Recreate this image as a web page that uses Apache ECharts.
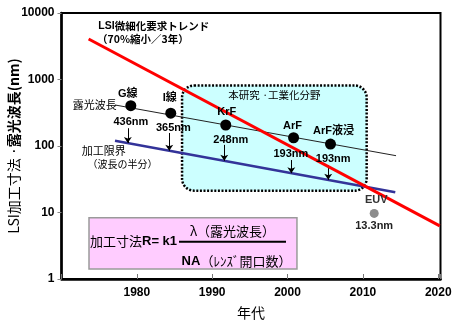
<!DOCTYPE html>
<html>
<head>
<meta charset="utf-8">
<script src="https://cdn.jsdelivr.net/npm/echarts@6/dist/echarts.min.js"></script>
<style>
  html, body { margin: 0; padding: 0; background: #fff; }
  #chart { width: 454px; height: 325px; }
</style>
</head>
<body>
<div id="chart"></div>
<script>
// LSI feature size and lithography wavelength trends (log scale, nm)
const trendYears = [1973.6, 2020.2];
const trendNm = [4060, 6.3];
const exposureYears = [1977.1, 2014.4];
const exposureNm = [414, 71.5];
const limitYears = [1977.1, 2014.3];
const limitNm = [120, 20.1];
const sourceNames = ['G線', 'I線', 'KrF', 'ArF', 'ArF液浸'];
const sourceYears = [1979.2, 1984.5, 1991.8, 2000.8, 2005.7];
const sourceNm = [404, 311, 207, 133, 107];
const sourceWavelengths = ['436nm', '365nm', '248nm', '193nm', '193nm'];
const arrowYears = [1978.8, 1984.3, 1991.6, 2000.5, 2005.4];
const arrowFromNm = [185, 157, 104, 61.5, 51.8];
const arrowToNm = [111, 85, 60, 39, 31];
const euvName = 'EUV';
const euvYears = [2011.5];
const euvNm = [9.7];
const euvWavelength = '13.3nm';
const studyRegion = [[1986.0, 813], [2010.5, 21.3]];
const formulaRegion = [[1973.65, 8.36], [2001.25, 1.41]];
const yTicks = [1, 10, 100, 1000, 10000];

// label nudges (pixels) for the light-source names and wavelengths
const nameNudge = [[-3, 0], [-1, -3], [1, -1.5], [-1, 0], [3, -1.5]];
const waveNudge = [[0, 1], [2.6, -0.5], [5, -0.5], [-2.7, 1.3], [2.7, -0.5]];

const LAT = "'Liberation Sans', Arial, 'Noto Sans CJK JP', sans-serif";
const JP = "'Noto Sans CJK JP', 'Liberation Sans', sans-serif";

const chart = echarts.init(document.getElementById('chart'), null, { renderer: 'canvas' });

const pairs = (xs, ys) => xs.map((x, i) => [x, ys[i]]);

const option = {
  animation: false,
  backgroundColor: '#fff',
  grid: {
    left: 61.5, top: 13, width: 379, height: 266,
    outerBoundsMode: 'none', containLabel: false,
    show: true, borderColor: '#000', borderWidth: 2, backgroundColor: '#fff'
  },
  xAxis: {
    type: 'value', min: 1970, max: 2020.3, interval: 10,
    name: '年代', nameLocation: 'middle', nameGap: 27, nameMoveOverlap: false,
    nameTextStyle: { fontFamily: JP, fontSize: 14, color: '#000' },
    axisLine: { lineStyle: { color: '#000', width: 2.5 } },
    axisTick: { inside: true, length: 5, lineStyle: { color: '#777', width: 1 } },
    axisLabel: {
      margin: 8, fontFamily: LAT, fontWeight: 'bold', fontSize: 12, color: '#000',
      formatter: v => (v % 10 === 0 && v > 1970) ? String(v) : ''
    },
    splitLine: { show: false }
  },
  yAxis: {
    type: 'log', logBase: 10, min: yTicks[0], max: yTicks[yTicks.length - 1],
    name: '{a|LSI加工寸法 ·}{b|露光波長(nm)}', nameLocation: 'middle', nameGap: 41, nameRotate: 90,
    nameMoveOverlap: false,
    nameTextStyle: {
      rich: {
        a: { fontFamily: JP, fontSize: 14, color: '#000' },
        b: { fontFamily: JP, fontSize: 14, fontWeight: 'bold', color: '#000' }
      }
    },
    axisLine: { lineStyle: { color: '#000', width: 2.5 } },
    axisTick: { inside: false, length: 4, lineStyle: { color: '#888', width: 1 } },
    axisLabel: {
      margin: 7, fontFamily: LAT, fontWeight: 'bold', fontSize: 12, color: '#000',
      formatter: v => String(Math.round(v))
    },
    splitLine: { show: false },
    minorTick: { show: false }
  },
  series: [
    {
      name: '加工限界', type: 'line', data: pairs(limitYears, limitNm),
      showSymbol: false, symbol: 'none', z: 3,
      lineStyle: { color: '#333399', width: 2.5 }
    },
    {
      name: '露光波長', type: 'line', data: pairs(exposureYears, exposureNm),
      showSymbol: false, symbol: 'none', z: 3,
      lineStyle: { color: '#222', width: 1 }
    },
    {
      name: 'LSI微細化要求トレンド', type: 'line', data: pairs(trendYears, trendNm),
      showSymbol: false, symbol: 'none', z: 4,
      lineStyle: { color: '#ff0000', width: 3 }
    },
    {
      name: 'arrows', type: 'lines', coordinateSystem: 'cartesian2d', z: 4,
      symbol: ['none', 'arrow'], symbolSize: [0, 6],
      lineStyle: { color: '#000', width: 1, opacity: 1 },
      data: arrowYears.map((y, i) => ({ coords: [[y, arrowFromNm[i]], [y, arrowToNm[i]]] }))
    },
    {
      name: '光源', type: 'scatter', z: 5, symbolSize: 11,
      itemStyle: { color: '#000', opacity: 1 },
      data: sourceYears.map((y, i) => ({
        value: [y, sourceNm[i]], name: sourceNames[i],
        label: { offset: nameNudge[i] }
      })),
      label: {
        show: true, position: 'top', distance: 1, formatter: p => p.name,
        fontFamily: LAT, fontWeight: 'bold', fontSize: 11, color: '#000'
      }
    },
    {
      name: '波長', type: 'scatter', z: 5, symbolSize: 11,
      itemStyle: { color: 'rgba(0,0,0,0)', opacity: 1 },
      data: sourceYears.map((y, i) => ({
        value: [y, sourceNm[i]], name: sourceWavelengths[i],
        label: { offset: waveNudge[i] }
      })),
      label: {
        show: true, position: 'bottom', distance: 4, formatter: p => p.name,
        fontFamily: LAT, fontWeight: 'bold', fontSize: 11, color: '#000'
      }
    },
    {
      name: euvName, type: 'scatter', z: 5, symbolSize: 9,
      itemStyle: { color: '#8c8c8c', opacity: 1 },
      data: pairs(euvYears, euvNm),
      label: {
        show: true, position: 'bottom', distance: 3, formatter: euvWavelength,
        fontFamily: LAT, fontWeight: 'bold', fontSize: 11, color: '#222'
      }
    }
  ]
};

chart.setOption(option);

function px(p) { return chart.convertToPixel({ gridIndex: 0 }, p); }

const s0 = px(studyRegion[0]), s1 = px(studyRegion[1]);
const f0 = px(formulaRegion[0]), f1 = px(formulaRegion[1]);
const euvPt = px([euvYears[0], euvNm[0]]);

function txt(x, y, text, size, weight, family, extra) {
  return {
    type: 'text', x, y, z: 20,
    style: Object.assign({
      text, fill: '#000', fontSize: size, fontWeight: weight, fontFamily: family,
      verticalAlign: 'middle', align: 'left'
    }, extra || {})
  };
}
const richJP = (size, weight) => ({ fontSize: size, fontWeight: weight, fontFamily: JP, fill: '#000' });
const richLAT = (size, weight) => ({ fontSize: size, fontWeight: weight, fontFamily: LAT, fill: '#000' });

chart.setOption({
  graphic: [
    {
      type: 'rect', z: 1,
      shape: { x: s0[0], y: s0[1], width: s1[0] - s0[0], height: s1[1] - s0[1], r: 12 },
      style: { fill: '#ccffff', stroke: '#000', lineWidth: 2.5, lineDash: [2, 1.6] }
    },
    {
      type: 'rect', z: 10,
      shape: { x: f0[0], y: f0[1], width: f1[0] - f0[0], height: f1[1] - f0[1] },
      style: { fill: '#ffccff', stroke: '#9a9a9a', lineWidth: 1.5 }
    },
    // resolution formula R = k1 · λ / NA
    txt(f0[0] + 1, 241, '{a|加工寸法}{b|R= k1}', 13, 'normal', JP, {
      rich: { a: richJP(13, 'normal'), b: richLAT(13, 'bold') }
    }),
    { type: 'line', z: 20, shape: { x1: 179, y1: 241.7, x2: 286, y2: 241.7 }, style: { stroke: '#000', lineWidth: 2 } },
    txt(232.5, 231.5, 'λ（露光波長）', 13, 'normal', JP, { align: 'center' }),
    txt(236.5, 261, '{b|NA}{a|（ﾚﾝｽﾞ開口数）}', 13, 'normal', JP, {
      align: 'center',
      rich: { a: richJP(13, 'normal'), b: richLAT(13, 'bold') }
    }),
    // annotations
    txt(98.3, 26, '{b|LSI}{a|微細化要求トレンド}', 10.5, 'bold', JP, {
      rich: { a: richJP(10.5, 'bold'), b: richLAT(10.5, 'bold') }
    }),
    txt(97, 39.5, '（70%縮小／3年）', 10.5, 'bold', JP),
    txt(72.7, 105, '露光波長', 11, 'normal', JP),
    txt(81.7, 150.5, '加工限界', 11, 'normal', JP),
    txt(87.5, 164, '（波長の半分）', 10, 'normal', JP),
    txt(228.3, 95, '本研究 ·工業化分野', 10.5, 'normal', JP),
    txt(euvPt[0] + 2, euvPt[1] - 13.5, euvName, 11, 'bold', LAT, { align: 'center', fill: '#333' })
  ]
});
</script>
</body>
</html>
